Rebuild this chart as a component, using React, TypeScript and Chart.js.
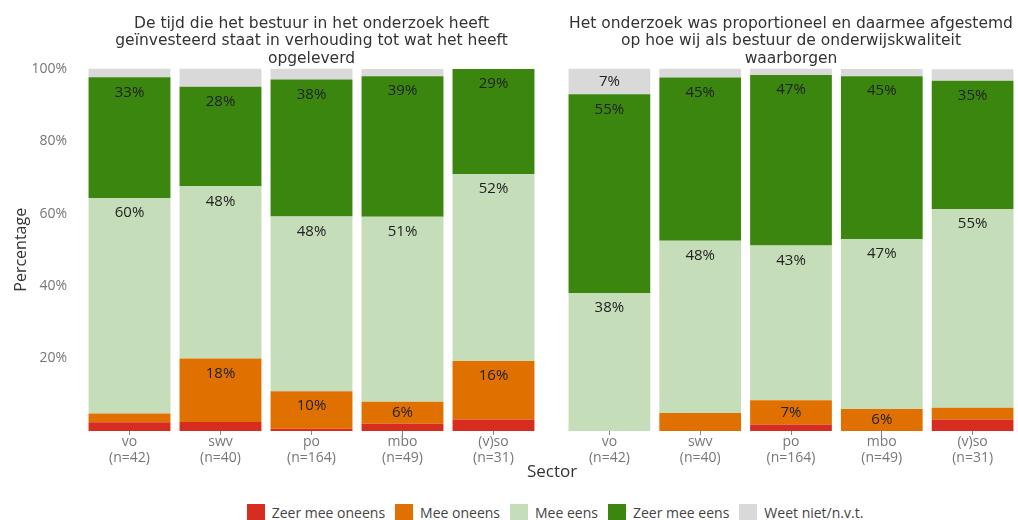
import React, { useEffect, useRef } from "react";
import { Chart, registerables } from "chart.js";

Chart.register(...registerables);

// ---------- data ----------
const sectors = ["vo", "swv", "po", "mbo", "(v)so"];
const sampleSizes = ["(n=42)", "(n=40)", "(n=164)", "(n=49)", "(n=31)"];
const answers = ["Zeer mee oneens", "Mee oneens", "Mee eens", "Zeer mee eens", "Weet niet/n.v.t."];
const answerColors = ["#d62d20", "#e07000", "#c5ddb9", "#3a860f", "#d9d9d9"];

const titleLeft = [
  "De tijd die het bestuur in het onderzoek heeft",
  "geïnvesteerd staat in verhouding tot wat het heeft",
  "opgeleverd",
];
const titleRight = [
  "Het onderzoek was proportioneel en daarmee afgestemd",
  "op hoe wij als bestuur de onderwijskwaliteit",
  "waarborgen",
];

// percentages per sector (vo, swv, po, mbo, (v)so)
const leftZeerOneens = [2.4, 2.5, 0.6, 2.0, 3.2];
const leftOneens = [2.4, 17.5, 10.4, 6.1, 16.1];
const leftEens = [59.5, 47.5, 48.2, 51.0, 51.6];
const leftZeerEens = [33.3, 27.5, 37.8, 38.8, 29.0];
const leftWeetNiet = [2.4, 5.0, 3.0, 2.0, 0];

const rightZeerOneens = [0, 0, 1.8, 0, 3.2];
const rightOneens = [0, 5.0, 6.7, 6.1, 3.2];
const rightEens = [38.1, 47.5, 42.7, 46.9, 54.8];
const rightZeerEens = [54.8, 45.0, 47.0, 44.9, 35.4];
const rightWeetNiet = [7.1, 2.5, 1.8, 2.0, 3.2];

const yTickValues = [0, 20, 40, 60, 80, 100];
const yTickLabels = ["", "20%", "40%", "60%", "80%", "100%"];

const xAxisTitle = "Sector";
const yAxisTitle = "Percentage";

// ---------- helpers ----------
const FONT = '"Open Sans", sans-serif';
const TITLE_FONT = '"DejaVu Sans", Verdana, sans-serif';

const segLabelPlugin = {
  id: "segLabels",
  afterDatasetsDraw(chart: any) {
    const ctx = chart.ctx;
    ctx.save();
    ctx.font = `15px ${FONT}`;
    ctx.fillStyle = "#222";
    ctx.textAlign = "center";
    ctx.textBaseline = "middle";
    chart.data.datasets.forEach((ds: any, di: number) => {
      const meta = chart.getDatasetMeta(di);
      meta.data.forEach((bar: any, i: number) => {
        const v = ds.data[i];
        if (v < 5.5) return;
        const h = bar.base - bar.y;
        ctx.fillText(Math.round(v) + "%", bar.x, bar.y + Math.min(15, h / 2));
      });
    });
    ctx.restore();
  },
};

function buildConfig(series: number[][], title: string[], showY: boolean, padLeft: number): any {
  return {
    type: "bar",
    data: {
      labels: sectors.map((s, i) => [s, sampleSizes[i]]),
      datasets: answers.map((a, k) => ({
        label: a,
        data: series[k],
        backgroundColor: answerColors[k],
        borderWidth: 0,
        barPercentage: 0.9,
        categoryPercentage: 1,
      })),
    },
    plugins: [segLabelPlugin],
    options: {
      responsive: false,
      animation: false,
      layout: { padding: { left: padLeft, right: 0, top: 0, bottom: 0 } },
      plugins: {
        legend: { display: false },
        tooltip: { enabled: false },
        title: {
          display: true,
          fullSize: false,
          text: title,
          color: "#333",
          font: { family: TITLE_FONT, size: 15.5, weight: "normal", lineHeight: 1.13 },
          padding: { top: 15, bottom: 1 },
        },
      },
      scales: {
        x: {
          stacked: true,
          grid: {
            display: true,
            drawOnChartArea: false,
            drawTicks: true,
            tickLength: 4,
            offset: false,
            color: "#888",
          },
          border: { display: false },
          ticks: {
            color: "#777",
            font: { family: FONT, size: 14, lineHeight: 1.15 },
            padding: -1,
            maxRotation: 0,
            autoSkip: false,
          },
          afterFit: (s: any) => {
            s.height = 39;
          },
        },
        y: {
          display: showY,
          stacked: true,
          min: 0,
          max: 100,
          grid: { display: false },
          border: { display: false },
          afterBuildTicks: (s: any) => {
            s.ticks = yTickValues.map((v) => ({ value: v }));
          },
          ticks: {
            color: "#777",
            font: { family: FONT, size: 14 },
            padding: 9,
            callback: (v: any) => yTickLabels[yTickValues.indexOf(Number(v))] ?? "",
          },
          title: {
            display: showY,
            text: yAxisTitle,
            color: "#333",
            font: { family: FONT, size: 16 },
            padding: { top: 12, bottom: 0 },
          },
          afterFit: (s: any) => {
            if (showY) s.width = 84;
          },
        },
      },
    },
  };
}

function Panel(props: { series: number[][]; title: string[]; showY: boolean; padLeft: number; width: number; left: number }) {
  const ref = useRef<HTMLCanvasElement | null>(null);
  useEffect(() => {
    if (!ref.current) return;
    const chart = new Chart(ref.current, buildConfig(props.series, props.title, props.showY, props.padLeft));
    return () => chart.destroy();
  }, []);
  return (
    <canvas
      ref={ref}
      width={props.width}
      height={470}
      style={{ position: "absolute", left: props.left, top: 0, width: props.width, height: 470 }}
    />
  );
}

export default function App() {
  const leftSeries = [leftZeerOneens, leftOneens, leftEens, leftZeerEens, leftWeetNiet];
  const rightSeries = [rightZeerOneens, rightOneens, rightEens, rightZeerEens, rightWeetNiet];
  return (
    <div
      style={{
        position: "fixed",
        left: 0,
        top: 0,
        width: 1018,
        height: 520,
        background: "#fff",
        overflow: "hidden",
        fontFamily: FONT,
      }}
    >
      <Panel series={leftSeries} title={titleLeft} showY={true} padLeft={0} width={539} left={0} />
      <Panel series={rightSeries} title={titleRight} showY={false} padLeft={19} width={473} left={545} />
      <div
        style={{
          position: "absolute",
          left: 452,
          width: 200,
          top: 460,
          textAlign: "center",
          fontSize: 17,
          color: "#333",
          lineHeight: "22px",
        }}
      >
        {xAxisTitle}
      </div>
      <div
        style={{
          position: "absolute",
          left: 0,
          width: 1120,
          top: 503,
          display: "flex",
          justifyContent: "center",
          alignItems: "center",
          fontSize: 14,
          color: "#444",
        }}
      >
        {answers.map((a, k) => (
          <div key={a} style={{ display: "flex", alignItems: "center", marginRight: 10 }}>
            <span
              style={{
                display: "inline-block",
                width: 18,
                height: 18,
                background: answerColors[k],
                marginRight: 7,
              }}
            />
            <span>{a}</span>
          </div>
        ))}
      </div>
    </div>
  );
}
